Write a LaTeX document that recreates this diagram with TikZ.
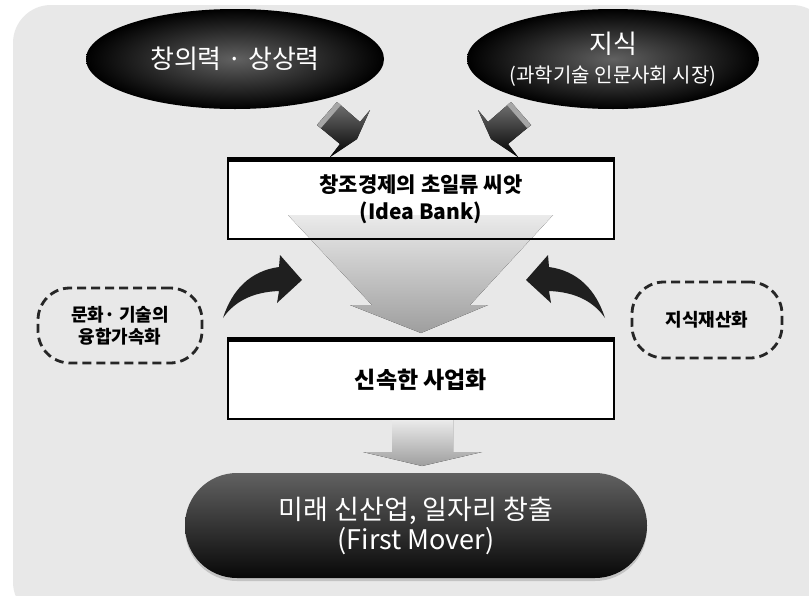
\documentclass[tikz,border=0pt]{standalone}
\usepackage{fontspec}
\newfontfamily\kr{Noto Sans CJK KR}
\usetikzlibrary{shapes.geometric,shadows}
\definecolor{bg}{RGB}{232,232,232}
\begin{document}
\begin{tikzpicture}[x=1pt,y=-1pt,
  every node/.style={font=\kr},
  ell/.style={ellipse, minimum width=#1, minimum height=100, inner sep=0pt,
    text=white, align=center, inner color=black!62, outer color=black},
  whitebox/.style={rectangle, draw=black, line width=1.4pt, minimum width=386,
    minimum height=79, inner sep=0pt, align=center, text=black},
  dashbox/.style={rectangle, draw=black!85, line width=2.8pt, dash pattern=on 9pt off 5pt,
    rounded corners=32pt, inner sep=0pt, align=center, text=black,
    font=\kr\bfseries\fontsize{18}{22}\selectfont},
  pill/.style={rectangle, rounded corners=52pt, minimum width=462, minimum height=105,
    inner sep=0pt, align=center, text=white,
    top color=black!62, middle color=black!80, bottom color=black!97,
    font=\kr\fontsize{27}{30}\selectfont},
  curvearrow/.style={fill=black!88},
  blockarrow/.style={top color=black!55, bottom color=black},
  sideface/.style={fill=black!35},
  grayarrow/.style={top color=white!92!black, bottom color=black!38}
]
\useasboundingbox (0,0) rectangle (809,595);
\clip (0,0) rectangle (809,595);
\fill[white] (0,0) rectangle (809,595);
\fill[bg, rounded corners=38pt] (13,5) rectangle (830,620);

% top ellipses
\node[ell=298, font=\kr\fontsize{26}{30}\selectfont] (e1) at (235,59) {창의력 · 상상력};
\node[ell=280, font=\kr\fontsize{20}{29}\selectfont] (e2) at (613,59)
  {{\fontsize{26}{29}\selectfont 지식}\\(과학기술 인문사회 시장)};

% small 3D arrows
\fill[blockarrow] (370,110) -- (360,122) -- (337,102) -- (317,125) -- (340,144) -- (330,157) -- (357,139) -- cycle;
\fill[sideface] (337,102) -- (317,125) -- (321,128) -- (341,105) -- cycle;
\fill[blockarrow] (478,110) -- (488,122) -- (511,102) -- (531,125) -- (508,144) -- (518,157) -- (491,139) -- cycle;
\fill[sideface] (511,102) -- (531,125) -- (527,128) -- (507,105) -- cycle;

% box 1 with big gray arrow
\fill[white] (228,160) rectangle (614,239);
\fill[grayarrow] (288,215) -- (553,215) -- (470,305) -- (488,305) -- (421,333) -- (350,305) -- (372,305) -- cycle;
\node[whitebox, font=\kr\bfseries\fontsize{21}{27}\selectfont] (b1) at (421,199.5)
  {창조경제의 초일류 씨앗\\(Idea Bank)};
\draw[line width=5pt] (b1.north west) -- (b1.north east);

% curved arrows
\fill[curvearrow] (223,318) .. controls (232,290) and (250,271) .. (279,267) -- (280,255) -- (302,280)
  -- (277,303) -- (279,291) .. controls (252,292) and (234,302) .. (223,318) -- cycle;
\fill[curvearrow] (605,318) .. controls (596,290) and (578,271) .. (549,267) -- (548,255) -- (526,280)
  -- (551,303) -- (549,291) .. controls (576,292) and (594,302) .. (605,318) -- cycle;

% dashed boxes
\node[dashbox, minimum width=164, minimum height=75] (d1) at (120,325.5) {문화· 기술의\\융합가속화};
\node[dashbox, minimum width=150, minimum height=76] (d2) at (707,320) {지식재산화};

% box 2
\node[whitebox, fill=white, font=\kr\bfseries\fontsize{23}{27}\selectfont] (b2) at (421,379.5) {신속한 사업화};
\draw[line width=5pt] (b2.north west) -- (b2.north east);

% small gray arrow
\fill[grayarrow] (392,420) -- (453,420) -- (453,452) -- (482,452) -- (422,466) -- (363,452) -- (392,452) -- cycle;

% bottom pill
\node[pill, drop shadow={opacity=0.35, shadow xshift=0pt, shadow yshift=-3pt}] (p) at (416,525.5)
  {미래 신산업, 일자리 창출\\(First Mover)};
\end{tikzpicture}
\end{document}
